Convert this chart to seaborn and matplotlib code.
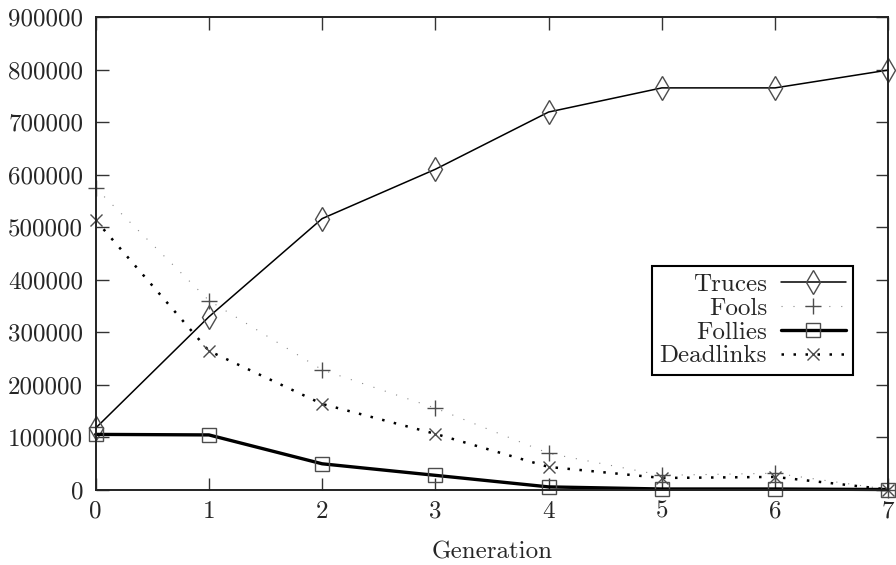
import matplotlib
matplotlib.use("Agg")
from matplotlib import pyplot as plt
import seaborn as sns

# values
generation = [0, 1, 2, 3, 4, 5, 6, 7]
truces = [117000, 329000, 516000, 610000, 719000, 765000, 765000, 799000]
fools = [574000, 360000, 228000, 155000, 69000, 27000, 31000, 0]
follies = [105000, 104000, 49000, 27000, 5000, 1000, 1000, 0]
deadlinks = [513000, 264000, 163000, 106000, 43000, 22000, 24000, 0]

yticks = [0, 100000, 200000, 300000, 400000, 500000, 600000, 700000, 800000, 900000]

sns.set_style("ticks")
plt.rcParams["font.family"] = ["cmr10", "DejaVu Serif"]
plt.rcParams["axes.unicode_minus"] = False
plt.rcParams["font.size"] = 18

fig = plt.figure(figsize=(8.96, 5.65), dpi=100)
ax = fig.add_subplot(111)
fig.subplots_adjust(left=0.1068, right=0.9914, top=0.9699, bottom=0.1336)

mec = "#4d4d4d"

# Truces: thin solid line, tall diamonds
sns.lineplot(x=generation, y=truces, ax=ax, color="black", lw=1.1,
             marker="d", markersize=12.5, markerfacecolor="none",
             markeredgecolor=mec, markeredgewidth=1.0, label="Truces", clip_on=False)

# Fools: sparse light dots, plus signs
sns.lineplot(x=generation, y=fools, ax=ax, color="#8a8a8a", lw=0.8,
             linestyle=(0, (1, 9.75)),
             marker="+", markersize=11, markeredgecolor=mec,
             markeredgewidth=1.0, label="Fools", clip_on=False)

# Follies: thick solid line, squares
sns.lineplot(x=generation, y=follies, ax=ax, color="black", lw=2.4,
             marker="s", markersize=10, markerfacecolor="none",
             markeredgecolor=mec, markeredgewidth=1.0, label="Follies", clip_on=False)

# Deadlinks: heavy dots, crosses
sns.lineplot(x=generation, y=deadlinks, ax=ax, color="black", lw=1.8,
             linestyle=(0, (1, 3.8)),
             marker="x", markersize=8, markeredgecolor=mec,
             markeredgewidth=1.0, label="Deadlinks", clip_on=False)

ax.set_xlim(0, 7)
ax.set_ylim(0, 900000)
ax.set_xticks(generation)
ax.set_xticklabels([str(g) for g in generation])
ax.set_yticks(yticks)
ax.set_yticklabels([str(v) for v in yticks])

ax.tick_params(axis="both", direction="in", length=9, width=1.0,
               top=True, right=True, color="#333333")
ax.tick_params(axis="x", pad=8)
ax.tick_params(axis="y", pad=9)
for side in ax.spines.values():
    side.set_linewidth(1.4)
    side.set_color("#222222")

ax.set_ylabel("")
ax.set_xlabel("Generation", va="baseline")
ax.xaxis.set_label_coords(0.5, -0.147)

leg = ax.legend(loc="upper right", bbox_to_anchor=(0.956, 0.473),
                borderaxespad=0, markerfirst=False, numpoints=1,
                handlelength=2.6, handletextpad=0.55, labelspacing=0.05,
                borderpad=0.3, fancybox=False, framealpha=1, edgecolor="black")
leg.get_frame().set_linewidth(1.5)

fig.savefig("out.png", dpi=100)
